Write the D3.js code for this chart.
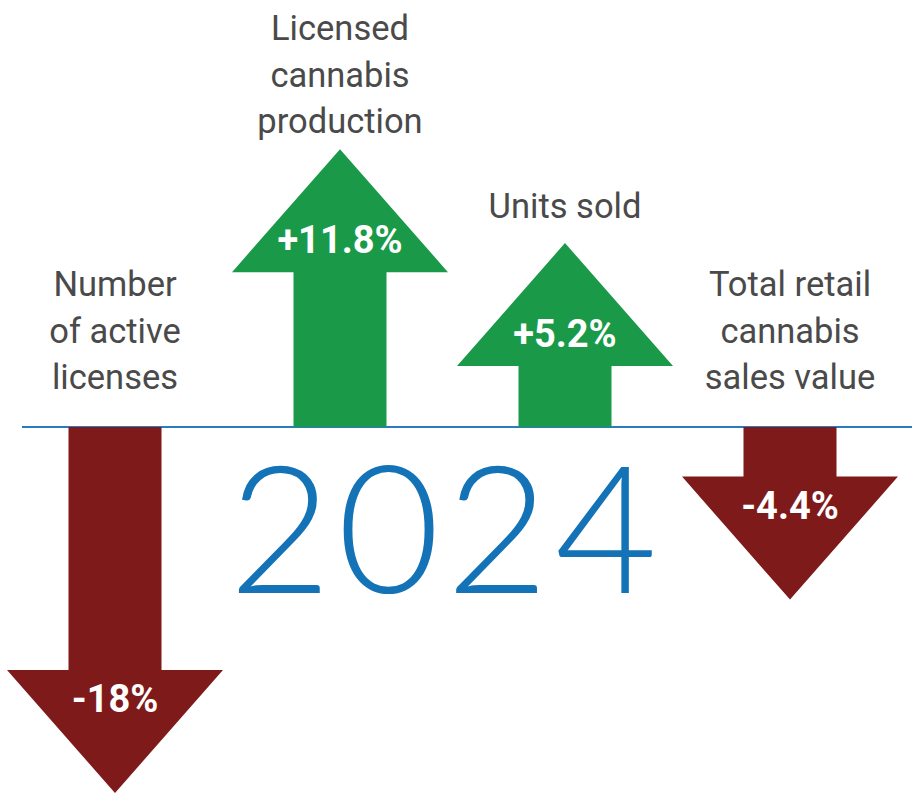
<!DOCTYPE html>
<html>
<head>
<meta charset="utf-8">
<script src="https://cdn.jsdelivr.net/npm/d3@7"></script>
<style>
  html, body { margin: 0; padding: 0; background: #ffffff; }
  svg { display: block; }
</style>
</head>
<body>
<svg id="chart" width="912" height="799"></svg>
<script>
// ---- data ----
const categories = ["Number of active licenses", "Licensed cannabis production", "Units sold", "Total retail cannabis sales value"];
const labelLines = [["Number", "of active", "licenses"], ["Licensed", "cannabis", "production"], ["Units sold"], ["Total retail", "cannabis", "sales value"]];
const changes = [-18, 11.8, 5.2, -4.4];
const valueLabels = ["-18%", "+11.8%", "+5.2%", "-4.4%"];
const yearLabel = "2024";

// ---- layout ----
const W = 912, H = 799;
const baseY = 427;
const shaftW = 93, headW = 216, headH = 123;
const upColor = "#1a9a48", downColor = "#7f1a1a";
const lineColor = "#2a7cc0", yearColor = "#1473b7", labelColor = "#4a4a4a";

const svg = d3.select("#chart");

const x = d3.scalePoint().domain(categories).range([115, 790]);
const len = d3.scaleLinear().domain([0, 18]).range([110, 366]);

const rows = categories.map((c, i) => ({ cat: c, v: changes[i], lines: labelLines[i], lab: valueLabels[i] }));

// year
svg.append("text")
  .attr("x", 446).attr("y", 593)
  .attr("text-anchor", "middle")
  .attr("font-family", "Lato, 'Open Sans', sans-serif")
  .attr("font-weight", 300)
  .attr("font-size", 177)
  .attr("letter-spacing", 6)
  .attr("fill", yearColor)
  .text(yearLabel);

// baseline
svg.append("line")
  .attr("x1", 22).attr("x2", W)
  .attr("y1", baseY).attr("y2", baseY)
  .attr("stroke", lineColor).attr("stroke-width", 2);

function geom(d) {
  const s = d.v >= 0 ? 1 : -1;
  const tip = baseY - s * len(Math.abs(d.v));
  return { s, tip, hb: tip + s * headH };
}

function arrowPath(d) {
  const cx = x(d.cat);
  const { tip, hb } = geom(d);
  const p = d3.path();
  p.moveTo(cx - shaftW / 2, baseY);
  p.lineTo(cx - shaftW / 2, hb);
  p.lineTo(cx - headW / 2, hb);
  p.lineTo(cx, tip);
  p.lineTo(cx + headW / 2, hb);
  p.lineTo(cx + shaftW / 2, hb);
  p.lineTo(cx + shaftW / 2, baseY);
  p.closePath();
  return p.toString();
}

svg.selectAll("path.arrow").data(rows).join("path")
  .attr("class", "arrow")
  .attr("d", arrowPath)
  .attr("fill", d => d.v >= 0 ? upColor : downColor);

// value labels
svg.selectAll("text.val").data(rows).join("text")
  .attr("class", "val")
  .attr("x", d => x(d.cat))
  .attr("y", d => {
    const g = geom(d);
    return g.s > 0 ? g.hb - 19 : g.hb + 42;
  })
  .attr("text-anchor", "middle")
  .attr("font-family", "Roboto, 'Open Sans', sans-serif")
  .attr("font-weight", 700)
  .attr("font-size", 38)
  .attr("fill", "#ffffff")
  .text(d => d.lab);

// category labels
const lineH = 46.5;
const lab = svg.selectAll("text.cat").data(rows).join("text")
  .attr("class", "cat")
  .attr("text-anchor", "middle")
  .attr("font-family", "Roboto, 'Open Sans', sans-serif")
  .attr("font-weight", 400)
  .attr("font-size", 34.5)
  .attr("fill", labelColor)
  .attr("transform", d => {
    const n = d.lines.length;
    let lastBase;
    if (d.v >= 0) lastBase = geom(d).tip - 25;
    else lastBase = baseY - 38;
    const firstBase = Math.max(40, lastBase - (n - 1) * lineH);
    return `translate(${x(d.cat)},${firstBase})`;
  });
lab.selectAll("tspan").data(d => d.lines).join("tspan")
  .attr("x", 0)
  .attr("y", (t, i) => i * lineH)
  .text(t => t);
</script>
</body>
</html>
